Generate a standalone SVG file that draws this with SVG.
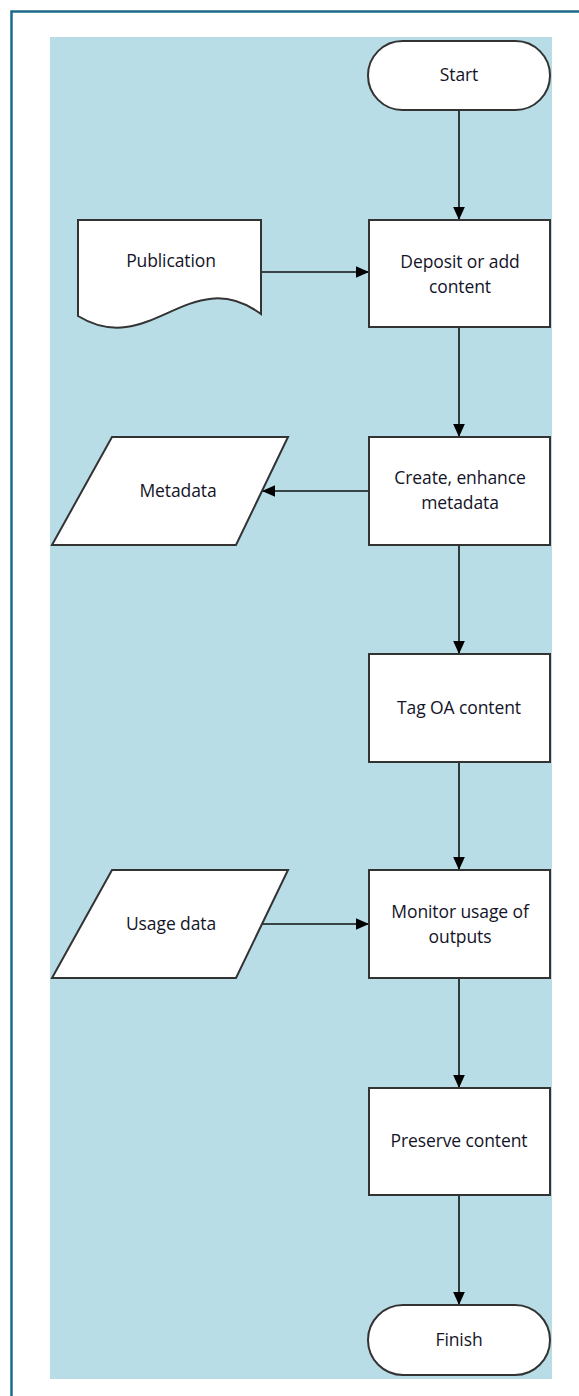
<svg xmlns="http://www.w3.org/2000/svg" width="579" height="1396" viewBox="0 0 579 1396">
<defs>
<style>
.shape{fill:#ffffff;stroke:#333333;stroke-width:2}
.lbl{font-family:"Open Sans","Noto Sans",sans-serif;font-size:17.5px;fill:#141428;text-anchor:middle;letter-spacing:-0.1px}
.conn{stroke:#111;stroke-width:1.6;fill:none;marker-end:url(#ah)}
</style>
<marker id="ah" viewBox="0 0 10 10" refX="10" refY="5" markerWidth="13" markerHeight="13" markerUnits="userSpaceOnUse" orient="auto">
<path d="M0,0.5 L10,5 L0,9.5 Z" fill="#000"/>
</marker>
</defs>
<rect x="0" y="0" width="579" height="1396" fill="#ffffff"/>
<path d="M11.5,1396 V11.5 H579" fill="none" stroke="#1d6b8c" stroke-width="2.5"/>
<rect x="50" y="37" width="502" height="1342" fill="#b8dde7"/>

<g id="connectors">
<line class="conn" x1="459" y1="110" x2="459" y2="220"/>
<line class="conn" x1="261" y1="272" x2="369" y2="272"/>
<line class="conn" x1="459" y1="327" x2="459" y2="437"/>
<line class="conn" x1="369" y1="491" x2="262" y2="491"/>
<line class="conn" x1="459" y1="545" x2="459" y2="654"/>
<line class="conn" x1="459" y1="762" x2="459" y2="870"/>
<line class="conn" x1="262" y1="924" x2="369" y2="924"/>
<line class="conn" x1="459" y1="978" x2="459" y2="1088"/>
<line class="conn" x1="459" y1="1195" x2="459" y2="1305"/>
</g>

<g id="start">
<rect class="shape" x="368" y="41" width="182" height="69" rx="34.5" ry="34.5"/>
<text class="lbl" x="459" y="81">Start</text>
</g>

<g id="publication">
<path class="shape" d="M78,220 H261 V314 C190,262 150,360 78,316 Z"/>
<text class="lbl" x="171" y="267">Publication</text>
</g>

<g id="deposit">
<rect class="shape" x="369" y="220" width="181" height="107"/>
<text class="lbl" x="460" y="268">Deposit or add</text>
<text class="lbl" x="460" y="293">content</text>
</g>

<g id="metadata">
<path class="shape" d="M112,437 H288 L236,545 H52 Z"/>
<text class="lbl" x="178" y="497">Metadata</text>
</g>

<g id="create">
<rect class="shape" x="369" y="437" width="181" height="108"/>
<text class="lbl" x="460" y="484">Create, enhance</text>
<text class="lbl" x="460" y="509">metadata</text>
</g>

<g id="tag">
<rect class="shape" x="369" y="654" width="181" height="108"/>
<text class="lbl" x="459" y="714">Tag OA content</text>
</g>

<g id="usage">
<path class="shape" d="M112,870 H288 L236,978 H52 Z"/>
<text class="lbl" x="171" y="930">Usage data</text>
</g>

<g id="monitor">
<rect class="shape" x="369" y="870" width="181" height="108"/>
<text class="lbl" x="460" y="918">Monitor usage of</text>
<text class="lbl" x="460" y="943">outputs</text>
</g>

<g id="preserve">
<rect class="shape" x="369" y="1088" width="181" height="107"/>
<text class="lbl" x="459" y="1147">Preserve content</text>
</g>

<g id="finish">
<rect class="shape" x="368" y="1305" width="182" height="70" rx="35" ry="35"/>
<text class="lbl" x="459" y="1346">Finish</text>
</g>
</svg>
